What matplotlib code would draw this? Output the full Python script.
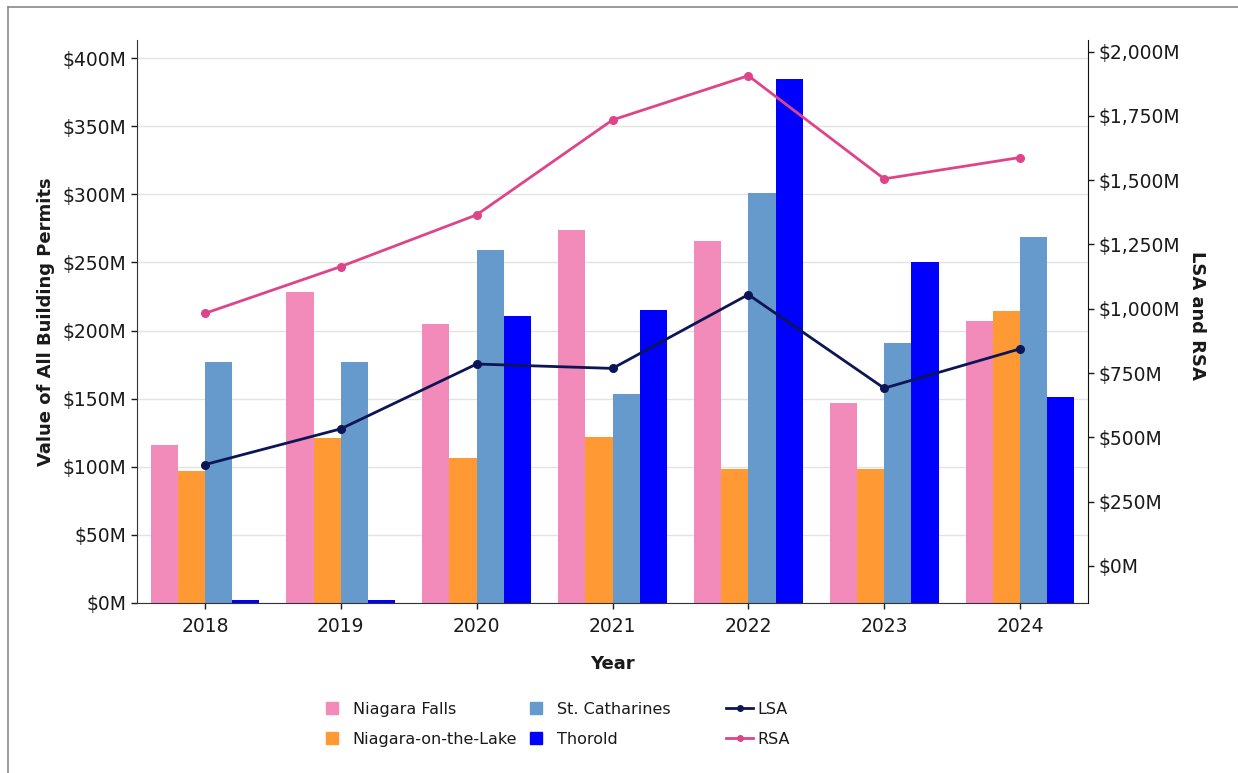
import matplotlib
matplotlib.use("Agg")
import matplotlib.pyplot as plt
import numpy as np
from matplotlib.lines import Line2D
from matplotlib.ticker import FuncFormatter, MultipleLocator

# Building permit values by municipality ($M)
years = ["2018", "2019", "2020", "2021", "2022", "2023", "2024"]
niagara_falls = [116, 228.5, 205, 274, 266, 147, 207]
niagara_on_the_lake = [97, 121, 106, 122, 98.5, 98.5, 214]
st_catharines = [177, 177, 259, 153, 301, 191, 268.5]
thorold = [1.8, 2.2, 211, 215, 385, 250, 151]

# Regional totals on the secondary axis ($M)
lsa = [394, 533, 785, 768, 1055, 691, 844]
rsa = [982, 1164, 1365, 1734, 1906, 1505, 1588]

bar_series = [
    ("Niagara Falls", niagara_falls, "#f28bba"),
    ("Niagara-on-the-Lake", niagara_on_the_lake, "#ff9933"),
    ("St. Catharines", st_catharines, "#6699cc"),
    ("Thorold", thorold, "#0000ff"),
]
line_series = [
    ("LSA", lsa, "#0c1656"),
    ("RSA", rsa, "#de4589"),
]

TEXT = "#1a1a1a"

fig = plt.figure(figsize=(12.38, 7.73), dpi=100)
ax = fig.add_axes([0.1107, 0.2203, 0.7681, 0.728])
ax2 = ax.twinx()

x = np.arange(len(years))
width = 0.2
offsets = [-1.5, -0.5, 0.5, 1.5]
for (name, vals, color), off in zip(bar_series, offsets):
    ax.bar(x + off * width, vals, width, color=color, zorder=2)

for name, vals, color in line_series:
    ax2.plot(x, vals, color=color, lw=2.0, marker="o", ms=5.5, zorder=3)

ax.set_xlim(-0.5, 6.5)
ax.set_ylim(0, 413.5)
ax2.set_ylim(-143, 2045)

ax.yaxis.set_major_locator(MultipleLocator(50))
ax.yaxis.set_major_formatter(FuncFormatter(lambda v, p: f"${v:,.0f}M"))
ax2.yaxis.set_major_locator(MultipleLocator(250))
ax2.yaxis.set_major_formatter(FuncFormatter(lambda v, p: f"${v:,.0f}M"))

ax.set_xticks(x)
ax.set_xticklabels(years)
ax.grid(axis="y", color="#e3e3e3", lw=1.0, zorder=0)
ax.set_axisbelow(True)
ax2.set_zorder(ax.get_zorder() + 1)
ax2.patch.set_visible(False)

for a in (ax, ax2):
    a.spines["top"].set_visible(False)
    a.tick_params(labelsize=13.5, colors=TEXT, length=4, width=1)
ax.spines["right"].set_visible(False)
ax.spines["left"].set_color("#333333")
ax.spines["bottom"].set_color("#333333")
ax2.spines["left"].set_visible(False)
ax2.spines["bottom"].set_visible(False)
ax2.spines["right"].set_color("#111111")
ax.tick_params(axis="x", pad=6)

ax.set_ylabel("Value of All Building Permits", fontsize=13, fontweight="bold", color=TEXT)
ax.yaxis.set_label_coords(-0.0862, 0.5)
ax2.set_ylabel("LSA and RSA", fontsize=13, fontweight="bold", color=TEXT, rotation=270)
ax2.yaxis.set_label_coords(1.124, 0.51)
ax.set_xlabel("Year", fontsize=13, fontweight="bold", color=TEXT)
ax.xaxis.set_label_coords(0.5, -0.093)

# Legend: three column groups below the plot
leg_y = 1 - 724.5 / 773
patch_cols = [(bar_series[0:2], 324), (bar_series[2:4], 528)]
for group, left_px in patch_cols:
    handles = [Line2D([], [], ls="none", marker="s", ms=8.5, mfc=c, mec=c) for _, _, c in group]
    leg = fig.legend(handles, [n for n, _, _ in group], loc="center left",
                     bbox_to_anchor=(left_px / 1238, leg_y), frameon=False,
                     fontsize=11.5, handlelength=1.0, handletextpad=0.8,
                     labelspacing=0.95, borderpad=0, borderaxespad=0)
    for t in leg.get_texts():
        t.set_color(TEXT)

line_handles = [Line2D([], [], color=c, lw=2.0, marker="o", ms=4) for _, _, c in line_series]
leg = fig.legend(line_handles, [n for n, _, _ in line_series], loc="center left",
                 bbox_to_anchor=(726 / 1238, leg_y), frameon=False,
                 fontsize=11.5, handlelength=1.7, handletextpad=0.25,
                 labelspacing=0.95, borderpad=0, borderaxespad=0)
for t in leg.get_texts():
    t.set_color(TEXT)

# Outer frame (top and left edges)
fig.add_artist(Line2D([8 / 1238, 8 / 1238], [0, 1 - 7 / 773], color="#8a8a8a", lw=1.2,
                      transform=fig.transFigure))
fig.add_artist(Line2D([8 / 1238, 1], [1 - 7 / 773, 1 - 7 / 773], color="#8a8a8a", lw=1.2,
                      transform=fig.transFigure))

fig.savefig("out.png", dpi=100, facecolor="white")
